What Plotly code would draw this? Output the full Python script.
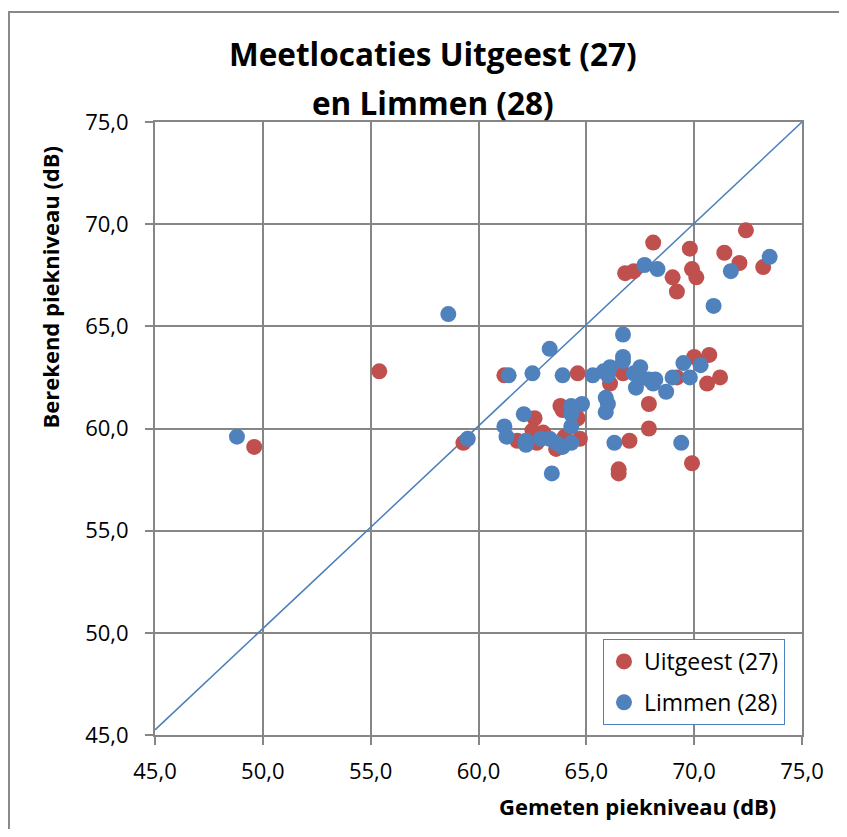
import plotly.graph_objects as go

uit_x = [49.6, 55.4, 59.3, 61.2, 61.8, 64.6, 63.8, 62.6, 64.6, 62.5, 63.0, 62.7, 63.6, 64.7, 64.0,
         66.7, 66.1, 67.9, 67.9, 67.0, 66.5, 66.5, 72.4, 68.1, 69.8, 71.4, 72.1, 73.2, 66.8, 67.2,
         69.0, 69.9, 70.1, 69.2, 70.0, 70.7, 70.6, 71.2, 69.2, 69.9, 63.9]
uit_y = [59.1, 62.8, 59.3, 62.6, 59.4, 62.7, 61.1, 60.5, 60.5, 59.9, 59.8, 59.3, 59.0, 59.5, 59.6,
         62.7, 62.2, 61.2, 60.0, 59.4, 58.0, 57.8, 69.7, 69.1, 68.8, 68.6, 68.1, 67.9, 67.6, 67.7,
         67.4, 67.8, 67.4, 66.7, 63.5, 63.6, 62.2, 62.5, 62.5, 58.3, 60.9]

lim_x = [48.8, 58.6, 63.3, 61.4, 62.5, 63.9, 65.3, 65.8, 66.1, 66.0, 66.7, 67.2, 67.5, 67.4, 67.3,
         67.9, 68.1, 68.2, 68.7, 69.0, 69.5, 70.3, 69.8, 65.9, 66.0, 65.9, 64.8, 64.3, 64.3, 62.1,
         64.3, 61.2, 61.3, 59.5, 62.2, 62.2, 62.9, 63.3, 63.6, 63.9, 64.3, 66.3, 69.4, 63.4, 73.5,
         71.7, 67.7, 68.3, 70.9, 66.7, 66.7]
lim_y = [59.6, 65.6, 63.9, 62.6, 62.7, 62.6, 62.6, 62.8, 63.0, 62.6, 63.3, 62.7, 63.0, 62.6, 62.0,
         62.4, 62.2, 62.4, 61.8, 62.5, 63.2, 63.1, 62.5, 61.5, 61.2, 60.8, 61.2, 61.1, 60.7, 60.7,
         60.1, 60.1, 59.6, 59.5, 59.4, 59.2, 59.5, 59.5, 59.3, 59.1, 59.3, 59.3, 59.3, 57.8, 68.4,
         67.7, 68.0, 67.8, 66.0, 64.6, 63.5]

diag_x = [45.0, 75.0]
diag_y = [45.25, 75.0]
ticks = [45, 50, 55, 60, 65, 70, 75]

FONT = "Open Sans"
fig = go.Figure()
fig.add_trace(go.Scatter(x=diag_x, y=diag_y, mode="lines", line=dict(color="#4a7ebb", width=1.5),
                         showlegend=False, hoverinfo="skip"))
fig.add_trace(go.Scatter(x=uit_x, y=uit_y, mode="markers", name="Uitgeest (27)", legendgroup="a",
                         marker=dict(color="#c0504d", size=16)))
fig.add_trace(go.Scatter(x=lim_x, y=lim_y, mode="markers", name="Limmen (28)", legendgroup="b",
                         marker=dict(color="#4f81bd", size=16)))

axis_common = dict(range=[45, 75], tickvals=ticks, tickformat=".1f", showgrid=True,
                   gridcolor="#868686", gridwidth=2, zeroline=False, showline=True,
                   linecolor="#868686", linewidth=2, mirror=True,
                   ticks="outside", ticklen=8, tickwidth=2, tickcolor="#868686",
                   tickfont=dict(family=FONT, size=22, color="black"))
fig.update_xaxes(**axis_common, ticklabelstandoff=8)
fig.update_yaxes(**axis_common, ticklabelstandoff=12)

fig.update_layout(
    width=831, height=821, separators=", ",
    margin=dict(l=147, r=37, t=114, b=94, autoexpand=False),
    plot_bgcolor="white", paper_bgcolor="white",
    font=dict(family=FONT, color="black"),
    legend=dict(x=0.6924, y=0.1566, xanchor="left", yanchor="top", bgcolor="white",
                bordercolor="#4f81bd", borderwidth=1, tracegroupgap=8,
                font=dict(family=FONT, size=23, color="black")),
    annotations=[
        dict(text="<b>Meetlocaties Uitgeest (27)</b>", xref="paper", yref="paper", x=0.4297, y=1.111,
             xanchor="center", yanchor="middle", showarrow=False, font=dict(family=FONT, size=31.5)),
        dict(text="<b>en Limmen (28)</b>", xref="paper", yref="paper", x=0.4297, y=1.032,
             xanchor="center", yanchor="middle", showarrow=False, font=dict(family=FONT, size=31.5)),
        dict(text="<b>Gemeten piekniveau (dB)</b>", xref="paper", yref="paper", x=0.963, y=-0.1158,
             xanchor="right", yanchor="middle", showarrow=False, font=dict(family=FONT, size=22)),
        dict(text="<b>Berekend piekniveau (dB)</b>", xref="paper", yref="paper", x=-0.1623, y=0.9657,
             xanchor="center", yanchor="top", textangle=-90, showarrow=False,
             font=dict(family=FONT, size=22)),
    ],
    shapes=[dict(type="rect", xref="paper", yref="paper", x0=-0.2257, x1=1.2, y0=-0.3, y1=1.1794,
                 line=dict(color="#888888", width=2), fillcolor="rgba(0,0,0,0)", layer="below")],
)
fig.write_html("out.html")
